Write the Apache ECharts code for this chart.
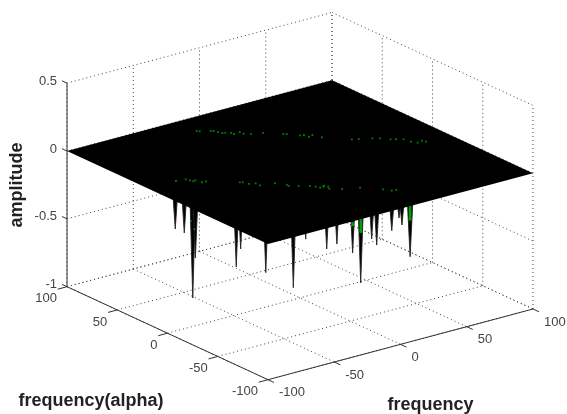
<!DOCTYPE html>
<html lang="en">
<head>
  <meta charset="UTF-8">
  <title>frequency / frequency(alpha) / amplitude</title>
  <script src="https://cdn.jsdelivr.net/npm/echarts@6/dist/echarts.min.js"></script>
  <style>
    html, body { margin: 0; padding: 0; background: #fff; }
  </style>
</head>
<body>
<div id="box" style="width: 567px;height: 414px;"></div>
<script>
  //tick labels
  var freqTicks = [-100, -50, 0, 50, 100];
  var alphaTicks = [100, 50, 0, -50, -100];
  var ampTicks = [0.5, 0, -0.5, -1];

  //negative spikes under the sheet: freq, alpha, amplitude
  var spikeFreq = [-79.2, -75.2, -71.6, -70.4, -52.6, -50.7, -39.7, -27.8, -22.4, -13.2, -8.8, -2, 1.6, 6.3, 8.5, 15.1, 18.3, 19.6, 23.1];
  var spikeAlpha = [19.7, 16, 12.3, 11.3, -5.9, -7.8, -18.3, -30, -35.2, -44, -48.3, -55, -58.3, -63, -65.1, -71.4, -74.4, -75.6, -79.1];
  var spikeAmp = [-0.354, -0.381, -0.857, -0.562, -0.615, -0.481, -0.648, -0.75, -0.388, -0.455, -0.415, -0.476, -0.695, -0.367, -0.41, -0.3, -0.204, -0.255, -0.486];

  //green parts of three spikes
  var greenFreq = [-2, 1.6, 23.1];
  var greenAlpha = [-55, -58.3, -79.1];
  var greenTop = [-0.249, -0.223, -0.105];
  var greenBottom = [-0.279, -0.326, -0.22];

  //small green points on the sheet, two rows
  var dotFreq = [-17.2, -16.1, -10.5, -9.1, -8.1, -7, -5.3, -2.8, -2.5, 2.3, 2.4, 5.6, 12.5, 21.1, 22.7, 27.8, 30, 30.6, 34, 36.2, 48.5, 52.1, 59.3, 63, 67, 69.6, 73.2, 74.3, 76.4, 80.6, 81.5,
    -78.9, -72.4, -71.5, -70.9, -68.9, -67.7, -64.8, -49.7, -48.2, -47, -43.1, -43.1, -33.9, -29.7, -30.1, -25.3, -19.9, -17.9, -16.8, -14.2, -12.8, -11.9, -13.5, -7.6, 2.3, 11.6, 14.4, 17.3,
    -75.9, -74.2];
  var dotAlpha = [80.1, 78.6, 75, 73.9, 70.9, 68.1, 67.4, 64.9, 62.4, 63, 59.3, 56.2, 53.3, 44.5, 43.2, 36.6, 35.6, 31.4, 32.5, 25.9, 12.3, 10.2, 6.2, 3.4, -1.8, -3.7, -6.5, -12.5, -16.3, -15.1, -18,
    19.4, 18.2, 15.2, 12.7, 13.3, 8.2, 8.1, -5.6, -6.6, -11.2, -12.7, -17, -19.7, -26, -28.4, -32, -36.1, -39.2, -42.2, -42, -40.9, -43.8, -46.9, -52, -56.7, -67.2, -72.3, -73,
    8.6, 7.3];
  //last two points hang below the sheet
  var dotAmp = dotFreq.map(function (v, i) { return i == dotFreq.length - 2 ? -0.265 : i == dotFreq.length - 1 ? -0.326 : 0; });

  //view of the box: screen position of a (freq, alpha, amplitude) point
  function proj(f, a, z) {
    return [
      300 + 1.325 * f - 1.005 * a,
      297.85 - 0.3535 * f - 0.465 * a - 135.7 * (z + 1)
    ];
  }

  function seg(p, q) { return p.concat(q); }

  //dotted grid on the two back walls and the floor
  var gridRows = [];
  freqTicks.forEach(function (f) {
    gridRows.push(seg(proj(f, 100, -1), proj(f, 100, 0.5)));
    gridRows.push(seg(proj(f, 100, -1), proj(f, -100, -1)));
  });
  alphaTicks.forEach(function (a) {
    gridRows.push(seg(proj(100, a, -1), proj(100, a, 0.5)));
    gridRows.push(seg(proj(-100, a, -1), proj(100, a, -1)));
  });
  ampTicks.forEach(function (z) {
    gridRows.push(seg(proj(-100, 100, z), proj(100, 100, z)));
    gridRows.push(seg(proj(100, 100, z), proj(100, -100, z)));
  });

  //solid axes and their tick marks
  var axisRows = [
    seg(proj(-100, 100, -1), proj(-100, 100, 0.5)),
    seg(proj(-100, 100, -1), proj(-100, -100, -1)),
    seg(proj(-100, -100, -1), proj(100, -100, -1))
  ];
  freqTicks.forEach(function (f) { axisRows.push(seg(proj(f, -100, -1), proj(f, -106, -1))); });
  alphaTicks.forEach(function (a) { axisRows.push(seg(proj(-100, a, -1), proj(-107, a, -1))); });
  ampTicks.forEach(function (z) { axisRows.push(seg(proj(-100, 100, z), proj(-100, 105, z))); });

  //green pieces
  var greenRows = greenFreq.map(function (f, i) {
    return seg(proj(f, greenAlpha[i], greenTop[i]), proj(f, greenAlpha[i], greenBottom[i]));
  });

  function segSeries(rows, color, width, dash) {
    return {
      type: 'custom',
      silent: true,
      data: rows,
      renderItem: function (params, api) {
        var p = api.coord([api.value(0), api.value(1)]);
        var q = api.coord([api.value(2), api.value(3)]);
        return {
          type: 'line',
          shape: { x1: p[0], y1: p[1], x2: q[0], y2: q[1] },
          style: { stroke: color, lineWidth: width, lineDash: dash || null, fill: null }
        };
      }
    };
  }

  //each spike is a thin wedge from the sheet down to its amplitude
  var spikeWidth = 1.4;
  var spikeRows = spikeFreq.map(function (f, i) {
    return proj(f + spikeWidth, spikeAlpha[i] - spikeWidth, 0)
      .concat(proj(f - spikeWidth, spikeAlpha[i] + spikeWidth, 0))
      .concat(proj(f, spikeAlpha[i], spikeAmp[i]));
  });
  var spikeSeries = {
    type: 'custom',
    silent: true,
    data: spikeRows,
    renderItem: function (params, api) {
      var pts = [0, 2, 4].map(function (k) { return api.coord([api.value(k), api.value(k + 1)]); });
      return { type: 'polygon', shape: { points: pts }, style: { fill: '#000', stroke: '#222', lineWidth: 0.9 } };
    }
  };

  //the flat sheet at amplitude 0
  var sheetRows = [[-100, 100], [100, 100], [100, -100], [-100, -100]].map(function (c) { return proj(c[0], c[1], 0); });
  var sheetSeries = {
    type: 'custom',
    silent: true,
    data: [sheetRows[0].concat(sheetRows[1], sheetRows[2], sheetRows[3])],
    renderItem: function (params, api) {
      var pts = [0, 2, 4, 6].map(function (k) { return api.coord([api.value(k), api.value(k + 1)]); });
      return { type: 'polygon', shape: { points: pts }, style: { fill: '#000' } };
    }
  };

  //texts: tick labels and axis titles
  var texts = [];
  freqTicks.forEach(function (f) {
    var p = proj(f, -100, -1);
    texts.push({ x: p[0] + 11, y: p[1] + 13, t: String(f), align: 'left' });
  });
  alphaTicks.forEach(function (a) {
    var p = proj(-100, a, -1);
    texts.push({ x: p[0] - 10, y: p[1] + 12, t: String(a), align: 'right' });
  });
  ampTicks.forEach(function (z) {
    var p = proj(-100, 100, z);
    texts.push({ x: p[0] - 10, y: p[1] - 2, t: String(z), align: 'right' });
  });
  texts.push({ x: 91, y: 401, t: 'frequency(alpha)', align: 'center', bold: true });
  texts.push({ x: 430.5, y: 405, t: 'frequency', align: 'center', bold: true });
  texts.push({ x: 17.5, y: 185, t: 'amplitude', align: 'center', bold: true, rot: Math.PI / 2 });

  var textSeries = {
    type: 'custom',
    silent: true,
    data: texts.map(function (o) { return [o.x, o.y]; }),
    renderItem: function (params, api) {
      var o = texts[params.dataIndex];
      var p = api.coord([api.value(0), api.value(1)]);
      return {
        type: 'text',
        x: p[0],
        y: p[1],
        rotation: o.rot || 0,
        style: {
          text: o.t,
          textAlign: o.align,
          textVerticalAlign: 'middle',
          fill: o.bold ? '#222' : '#444',
          font: (o.bold ? 'bold 18px' : '13px') + ' "Liberation Sans", Arial, sans-serif'
        }
      };
    }
  };

  var myChart = echarts.init(document.getElementById("box"), null, { renderer: 'canvas' });
  var option = {
    animation: false,
    backgroundColor: '#fff',
    grid: { left: 0, right: 0, top: 0, bottom: 0 },
    //plain screen axes that the projected points are placed on
    xAxis: { type: 'value', min: 0, max: 567, show: false },
    yAxis: { type: 'value', min: 0, max: 414, inverse: true, show: false },
    series: [
      segSeries(gridRows, '#444', 1, [1, 3]),
      segSeries(axisRows, '#333', 1),
      spikeSeries,
      segSeries(greenRows, '#00a000', 2.6),
      sheetSeries,
      {
        type: 'scatter',
        silent: true,
        symbol: 'rect',
        symbolSize: 1.8,
        itemStyle: { color: '#00a000' },
        data: dotFreq.map(function (f, i) { return proj(f, dotAlpha[i], dotAmp[i]); })
      },
      textSeries
    ]
  };
  myChart.setOption(option);
</script>
</body>
</html>
